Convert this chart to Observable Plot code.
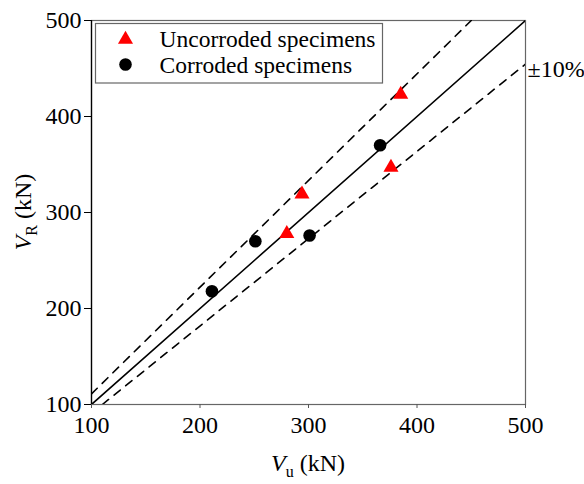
<!DOCTYPE html>
<html>
<head>
<meta charset="utf-8">
<script src="https://cdn.jsdelivr.net/npm/d3@7"></script>
<script src="https://cdn.jsdelivr.net/npm/@observablehq/plot@0.6"></script>
<style>
  html, body { margin: 0; padding: 0; background: white; }
  #chart { width: 584px; height: 484px; }
  #chart svg, #chart svg text { font-family: "Liberation Serif", "Times New Roman", serif !important; }
</style>
</head>
<body>
<div id="chart"></div>
<script>
// ---- data ----
const uncorrodedVu = [280, 294, 376, 385];
const uncorrodedVr = [278, 319, 347, 423];
const corrodedVu = [211, 251, 301, 366];
const corrodedVr = [218, 270, 276, 370];
const xTicks = [100, 200, 300, 400, 500];
const yTicks = [100, 200, 300, 400, 500];
const axisDomain = [100, 500];
const centerRatio = 1;
const bandRatios = [1 / 0.9, 1 / 1.1];
const legendLabels = ["Uncorroded specimens", "Corroded specimens"];
const bandLabel = "±10%";

// ---- derived tables ----
const uncorroded = uncorrodedVu.map((v, i) => ({vu: v, vr: uncorrodedVr[i]}));
const corroded = corrodedVu.map((v, i) => ({vu: v, vr: corrodedVr[i]}));
function ratioLine(r, k) {
  const x0 = Math.max(axisDomain[0], axisDomain[0] / r);
  const x1 = Math.min(axisDomain[1], axisDomain[1] / r);
  return [{x: x0, y: x0 * r, k}, {x: x1, y: x1 * r, k}];
}
const solidLine = ratioLine(centerRatio, "c");
const dashedLines = bandRatios.flatMap((r, i) => ratioLine(r, "b" + i));
const labelPoint = [{x: axisDomain[1], y: axisDomain[1] * bandRatios[1]}];

const FONT = "Liberation Serif, Times New Roman, serif";
const FS = 24;
const LFS = 23.5;

const chart = Plot.plot({
  width: 584,
  height: 484,
  marginLeft: 91,
  marginRight: 59,
  marginTop: 20,
  marginBottom: 80,
  style: {fontFamily: FONT, fontSize: FS + "px", color: "black", background: "white", overflow: "visible"},
  x: {domain: axisDomain},
  y: {domain: axisDomain},
  marks: [
    Plot.frame({stroke: "#666", strokeWidth: 1.2}),
    Plot.axisX({ticks: xTicks, tickSize: 4, tickPadding: 7, label: null, fontSize: FS, fontFamily: FONT, stroke: "#555"}),
    Plot.axisY({ticks: yTicks, tickSize: 7, tickPadding: 3, label: null, fontSize: FS, fontFamily: FONT}),
    Plot.ruleX([axisDomain[0]], {stroke: "black", strokeWidth: 1.3}),
    Plot.line(dashedLines, {x: "x", y: "y", z: "k", stroke: "black", strokeWidth: 1.6, strokeDasharray: "8,7", clip: true}),
    Plot.line(solidLine, {x: "x", y: "y", stroke: "black", strokeWidth: 1.6, clip: true}),
    Plot.dot(corroded, {x: "vu", y: "vr", r: 6.3, fill: "black", stroke: "none", symbol: "circle"}),
    Plot.dot(uncorroded, {x: "vu", y: "vr", r: 5.6, fill: "#ff0000", stroke: "none", symbol: "triangle"}),
    Plot.text(labelPoint, {x: "x", y: "y", text: () => bandLabel, textAnchor: "start", dx: 2, dy: 5, fontSize: FS, fontFamily: FONT, fill: "black"}),
    // legend markers and labels
    Plot.dot([legendLabels[0]], {frameAnchor: "top-left", dx: 34, dy: 19, r: 5.6, symbol: "triangle", fill: "#ff0000", stroke: "none"}),
    Plot.dot([legendLabels[1]], {frameAnchor: "top-left", dx: 34, dy: 44, r: 6.3, symbol: "circle", fill: "black", stroke: "none"}),
    Plot.text([legendLabels[0]], {frameAnchor: "top-left", dx: 68, dy: 18.5, text: d => d, textAnchor: "start", lineAnchor: "middle", fontSize: LFS, fontFamily: FONT, fill: "black"}),
    Plot.text([legendLabels[1]], {frameAnchor: "top-left", dx: 68, dy: 44.5, text: d => d, textAnchor: "start", lineAnchor: "middle", fontSize: LFS, fontFamily: FONT, fill: "black"})
  ]
});

const svg = d3.select(chart);
// legend box
svg.insert("rect", "g[aria-label='dot']")
  .attr("x", 95.5).attr("y", 23.5).attr("width", 287).attr("height", 59.5)
  .attr("fill", "white").attr("stroke", "#666").attr("stroke-width", 1.2);

// axis titles with subscripts
const xt = svg.append("text")
  .attr("x", 308).attr("y", 471)
  .attr("text-anchor", "middle")
  .attr("font-family", FONT).attr("font-size", FS).attr("fill", "black");
xt.append("tspan").attr("font-style", "italic").text("V");
xt.append("tspan").attr("font-size", 16).attr("dy", 6).text("u");
xt.append("tspan").attr("dy", -6).text(" (kN)");

const yt = svg.append("text")
  .attr("transform", "translate(31,212) rotate(-90)")
  .attr("text-anchor", "middle")
  .attr("font-family", FONT).attr("font-size", FS).attr("fill", "black");
yt.append("tspan").attr("font-style", "italic").text("V");
yt.append("tspan").attr("font-size", 16).attr("dy", 6).text("R");
yt.append("tspan").attr("dy", -6).text(" (kN)");

document.getElementById("chart").appendChild(chart);
</script>
</body>
</html>
